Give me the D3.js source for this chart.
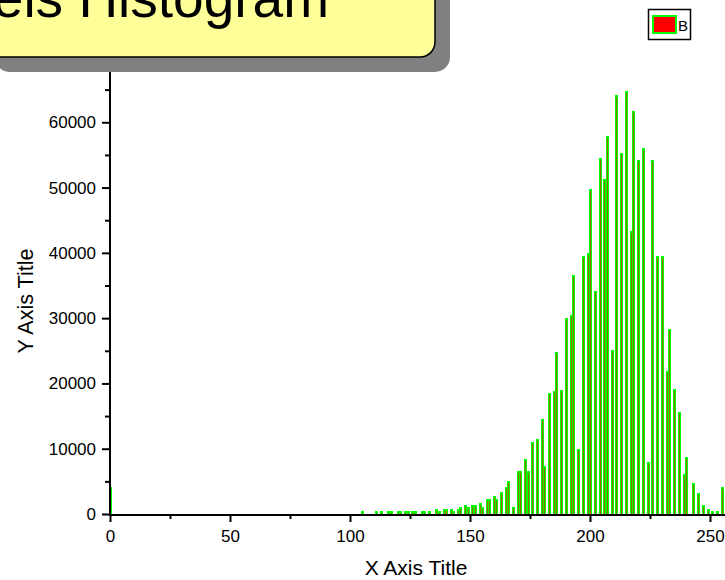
<!DOCTYPE html>
<html>
<head>
<meta charset="utf-8">
<script src="https://cdn.jsdelivr.net/npm/d3@7/dist/d3.min.js"></script>
<style>
  html, body { margin: 0; padding: 0; background: #fff; }
  svg { display: block; }
</style>
</head>
<body>
<svg id="chart" width="725" height="580"></svg>
<script>
// Pixel intensity bins (0-255) that hold any pixels, and their counts
const binValues = [
  0, 105, 111, 113, 116, 117, 120, 121, 123, 124, 126, 127, 130, 131, 133,
  136, 137, 139, 140, 142, 143, 145, 146, 148, 149, 151, 152, 154, 155, 157,
  158, 160, 161, 163, 165, 166, 168, 170, 171, 173, 174, 176, 178, 180, 181,
  183, 185, 186, 188, 190, 192, 193, 195, 197, 199, 200, 202, 204, 206, 207,
  209, 211, 213, 215, 217, 218, 220, 222, 224, 226, 228, 230, 232, 233, 235,
  237, 239, 240, 243, 245, 247, 249, 251, 253, 255
];
const pixelCounts = [
  4000, 350, 350, 350, 350, 350, 350, 350, 350, 350, 350, 350, 350, 350, 350,
  650, 350, 650, 650, 650, 350, 650, 950, 1250, 950, 1250, 1250, 1600, 950, 2200,
  2200, 2650, 2200, 3250, 4000, 4950, 950, 6450, 6450, 8300, 6450, 10800, 11400, 14450, 7250,
  18400, 18700, 24600, 18900, 29800, 30400, 36400, 9850, 39400, 39900, 49700, 34000, 54300, 51200, 57800,
  25000, 64100, 55200, 64700, 43200, 61600, 54000, 55900, 7850, 54000, 39300, 39400, 21800, 28200, 19000,
  15400, 5900, 8600, 4650, 3100, 1250, 650, 350, 350, 4050
];

const xTicks = [0, 50, 100, 150, 200, 250];
const xMinorTicks = [25, 75, 125, 175, 225];
const yTicks = [0, 10000, 20000, 30000, 40000, 50000, 60000];
const yMinorTicks = [5000, 15000, 25000, 35000, 45000, 55000, 65000];

const titleText = "Pixels Histogram";
const xTitle = "X Axis Title";
const yTitle = "Y Axis Title";
const seriesName = "B";

const svg = d3.select("#chart");
const W = 725, H = 580;
svg.append("rect").attr("width", W).attr("height", H).attr("fill", "#fff");

const x0 = 110, x1 = 722, yBase = 514, yTop = 57;
const x = d3.scaleLinear().domain([0, 255]).range([x0, x1]);
const y = d3.scaleLinear().domain([0, 70000]).range([yBase, yTop]);

const font = "'Liberation Sans', Arial, sans-serif";

// clip bars to the plot region
svg.append("defs").append("clipPath").attr("id", "plotClip")
  .append("rect").attr("x", x0 + 1).attr("y", 0).attr("width", W).attr("height", yBase);

const data = binValues.map((b, i) => ({ bin: b, count: pixelCounts[i] }));

// each bar: a 3px green outline around a thin red core, on whole pixels
const bars = svg.append("g").attr("clip-path", "url(#plotClip)")
  .selectAll("g").data(data).enter().append("g");
bars.append("rect")
  .attr("x", d => Math.round(x(d.bin)) - 1)
  .attr("width", 3)
  .attr("y", d => Math.round(y(d.count)) - 1)
  .attr("height", d => yBase - Math.round(y(d.count)) + 1)
  .attr("fill", "#00ff00");
bars.append("rect")
  .attr("x", d => Math.round(x(d.bin)))
  .attr("width", 1)
  .attr("y", d => Math.round(y(d.count)) + 1)
  .attr("height", d => yBase - Math.round(y(d.count)) - 1)
  .attr("fill", "#ff0000")
  .attr("fill-opacity", 0.55);

// X axis
const gx = svg.append("g").attr("transform", `translate(0,${yBase})`);
gx.call(d3.axisBottom(x).tickValues(xTicks).tickSize(8).tickPadding(8).tickFormat(d3.format("d")));
gx.select(".domain").remove();
gx.selectAll(".tick line").attr("stroke", "#000").attr("stroke-width", 2);
gx.selectAll(".tick text").attr("font-family", font).attr("font-size", 17).attr("fill", "#000");
const gxm = svg.append("g").attr("transform", `translate(0,${yBase})`);
gxm.call(d3.axisBottom(x).tickValues(xMinorTicks).tickSize(5).tickFormat(""));
gxm.select(".domain").remove();
gxm.selectAll(".tick line").attr("stroke", "#000").attr("stroke-width", 2);
svg.append("line").attr("x1", x0 - 1).attr("x2", W).attr("y1", yBase + 1).attr("y2", yBase + 1)
  .attr("stroke", "#000").attr("stroke-width", 2);

// Y axis
const gy = svg.append("g").attr("transform", `translate(${x0},0)`);
gy.call(d3.axisLeft(y).tickValues(yTicks).tickSize(8).tickPadding(6).tickFormat(d3.format("d")));
gy.select(".domain").remove();
gy.selectAll(".tick line").attr("stroke", "#000").attr("stroke-width", 2);
gy.selectAll(".tick text").attr("font-family", font).attr("font-size", 17).attr("fill", "#000");
const gym = svg.append("g").attr("transform", `translate(${x0},0)`);
gym.call(d3.axisLeft(y).tickValues(yMinorTicks).tickSize(5).tickFormat(""));
gym.select(".domain").remove();
gym.selectAll(".tick line").attr("stroke", "#000").attr("stroke-width", 2);
svg.append("line").attr("x1", x0).attr("x2", x0).attr("y1", yTop).attr("y2", yBase + 2)
  .attr("stroke", "#000").attr("stroke-width", 2);

// Axis titles
svg.append("text").attr("x", 416).attr("y", 575).attr("text-anchor", "middle")
  .attr("font-family", font).attr("font-size", 21).text(xTitle);
svg.append("text").attr("transform", "translate(33,301) rotate(-90)").attr("text-anchor", "middle")
  .attr("font-family", font).attr("font-size", 21.5).text(yTitle);

// Title box with drop shadow
svg.append("rect").attr("x", -5).attr("y", -25).attr("width", 455).attr("height", 97).attr("rx", 15)
  .attr("fill", "#808080");
svg.append("rect").attr("x", -20).attr("y", -40).attr("width", 455).attr("height", 97).attr("rx", 15)
  .attr("fill", "#ffff99").attr("stroke", "#000").attr("stroke-width", 1.5);
svg.append("text").attr("x", 329).attr("y", 17).attr("text-anchor", "end")
  .attr("font-family", font).attr("font-size", 55).text(titleText);

// Legend
const lg = svg.append("g");
lg.append("rect").attr("x", 648.5).attr("y", 9.5).attr("width", 42).attr("height", 30)
  .attr("fill", "#fff").attr("stroke", "#000").attr("stroke-width", 1.5);
lg.append("rect").attr("x", 653).attr("y", 16).attr("width", 23).attr("height", 17)
  .attr("fill", "#ff0000").attr("stroke", "#00ff00").attr("stroke-width", 2);
lg.append("text").attr("x", 678).attr("y", 30.5).attr("font-family", font).attr("font-size", 15)
  .text(seriesName);
</script>
</body>
</html>
